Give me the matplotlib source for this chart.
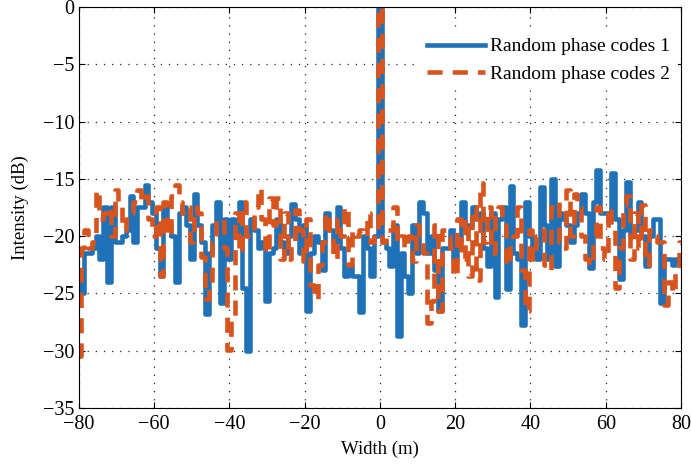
import numpy as np
import matplotlib
matplotlib.use("Agg")
import matplotlib.pyplot as plt

plt.rcParams['font.family'] = ['Liberation Serif', 'DejaVu Serif']

# sample positions (m)
width = np.arange(-80, 81)

# Random phase codes 1 (dB)
code1 = [
    -23, -25, -21.5, -21.5, -21, -20, -22, -17.5, -24, -17.5,        # -80..-71
    -20.5, -20.5, -20, -19.5, -16.5, -20.5, -17.5, -17.5, -15.5, -17,  # -70..-61
    -18, -21, -23.5, -17.5, -19, -20, -24, -18, -17.5, -19,           # -60..-51
    -22, -16.3, -19, -20.5, -26.8, -21.5, -19, -17, -25.8, -18.5,     # -50..-41
    -22, -18.5, -20, -17, -24.5, -30, -18.5, -19.5, -21, -20.5,       # -40..-31
    -25.7, -21.5, -21, -18.5, -20.5, -21.5, -20, -17.2, -18.5, -21.5, # -30..-21
    -19, -26.5, -21.5, -20, -20.5, -23, -18, -19.5, -20.5, -17.5,     # -20..-11
    -21, -23.5, -22.5, -23.5, -23.5, -26.6, -20, -21, -23.5, -20,     # -10..-1
    0,                                                                 # 0
    -20.5, -21, -22.6, -19, -28.7, -21.5, -23.5, -25, -19, -21.5,     # 1..10
    -17, -18, -21.5, -20, -23, -26.5, -21, -21, -19.5, -22,           # 11..20
    -20.5, -17, -19.5, -19, -17.5, -18.5, -18, -21, -22.6, -18,       # 21..30
    -25.3, -18.5, -17.5, -24.6, -15.6, -21.5, -22, -27.8, -17, -20,   # 31..40
    -21, -22, -15.7, -19, -22, -15, -22.6, -18, -18.5, -19,           # 41..50
    -20.5, -19, -18, -16.3, -18, -22.8, -17, -14.2, -18, -18,         # 51..60
    -18.5, -14.5, -18.5, -23.7, -19.5, -15.3, -20, -19.5, -17, -20,   # 61..70
    -22.6, -20, -18.5, -18.5, -25.8, -22, -22, -22.5, -22, -22,       # 71..80
]

# Random phase codes 2 (dB)
code2 = [
    -30.5, -21, -19.5, -21, -20.5, -16, -18.5, -18, -17.5, -20,       # -80..-71
    -16, -17, -19.5, -18.5, -18, -17, -16, -17, -16.5, -18.5,         # -70..-61
    -20, -17.5, -23.5, -17, -20, -16.5, -15.5, -17, -18, -17.5,       # -60..-51
    -20.5, -17.5, -18, -21.8, -25.5, -24.5, -20.5, -18.5, -18.5, -21, # -50..-41
    -29.9, -27, -18, -21.5, -17, -20, -20, -17.5, -15.8, -18.5,       # -40..-31
    -21.5, -16.7, -19, -16.7, -22, -18, -22, -20.5, -17.7, -19.5,     # -30..-21
    -22.2, -18.5, -24.3, -25.5, -22.5, -20.5, -18, -19.5, -22, -18.5, # -20..-11
    -20, -17.5, -22.5, -19.5, -20, -19.5, -20, -18, -20.5, -19.5,     # -10..-1
    0,                                                                 # 0
    -20.5, -19.5, -19.5, -17.5, -20.5, -20, -21, -20, -22.2, -19,     # 1..10
    -20.5, -21.5, -27.6, -25.7, -19, -26.5, -19.5, -20, -21, -23.5,   # 11..20
    -18.5, -22, -18.5, -23.5, -17.5, -23.8, -15.4, -20.5, -17.5, -21.5, # 21..30
    -18, -17.5, -18.5, -22.5, -20.5, -20, -17.5, -23, -26.5, -19.5,   # 31..40
    -22, -20, -19.5, -22.5, -23, -17.5, -17, -20.5, -21, -16,         # 41..50
    -20, -16.3, -17.5, -20, -22, -22.5, -20, -17.5, -21, -22,         # 51..60
    -17.5, -19.5, -24.5, -21, -17.3, -16.5, -22, -18, -21, -17.3,     # 61..70
    -22.5, -19.5, -20, -20.5, -20.5, -26, -24, -25, -23, -20.5,       # 71..80
]

fig = plt.figure(figsize=(6.91, 4.66), dpi=100)
ax = fig.add_axes([0.114, 0.1245, 0.8715, 0.8605])

ax.plot(width, code1, drawstyle='steps-mid', color='#1f72b8', lw=3.3,
        label='Random phase codes 1')
ax.plot(width, code2, drawstyle='steps-mid', color='#d9541c', lw=3.3,
        ls=(0, (3.3, 2.2)), label='Random phase codes 2')

ax.set_xlim(-80, 80)
ax.set_ylim(-35, 0)
ax.set_xticks(np.arange(-80, 81, 20))
ax.set_yticks(np.arange(-35, 1, 5))
ax.grid(True, ls=(0, (1, 5.5)), color='#222222', lw=0.9)
ax.tick_params(direction='in', top=True, right=True, labelsize=14.5, length=4)
ax.tick_params(axis='x', pad=5)
ax.tick_params(axis='y', pad=3)
ax.set_xlabel('Width (m)', fontsize=13.5, labelpad=5)
ax.set_ylabel('Intensity (dB)', fontsize=13.5, labelpad=10)
for s in ax.spines.values():
    s.set_linewidth(0.8)

leg = ax.legend(loc='upper right', bbox_to_anchor=(1.0, 0.95), fontsize=14,
                frameon=True, handlelength=3.0, borderaxespad=0.15,
                labelspacing=0.5, handletextpad=0.25, borderpad=0.4)
leg.get_frame().set_edgecolor('none')
leg.get_frame().set_alpha(1)

fig.savefig('out.png', dpi=100)
